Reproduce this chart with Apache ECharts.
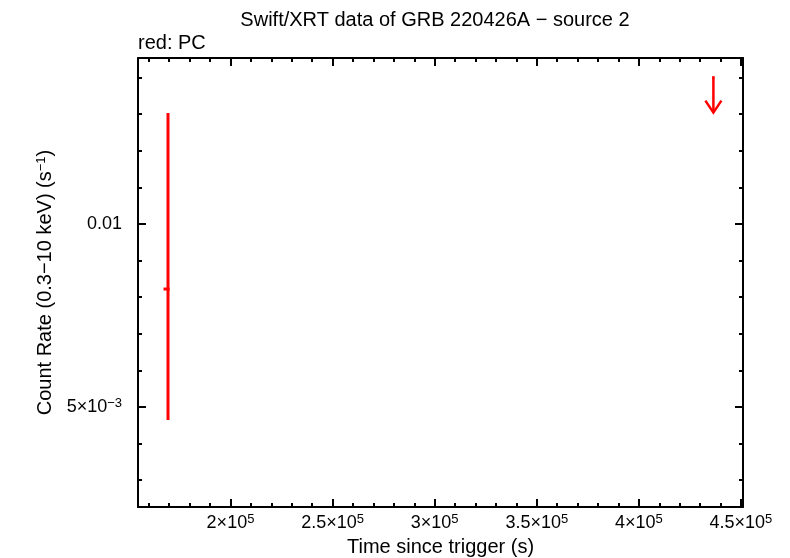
<!DOCTYPE html>
<html><head><meta charset="utf-8">
<script src="https://cdn.jsdelivr.net/npm/echarts@6/dist/echarts.min.js"></script>
<style>html,body{margin:0;padding:0;background:#fff}#c{width:790px;height:558px}</style>
</head><body><div id="c"></div>
<script>
// PC-mode detection (time since trigger, s; count rate, s^-1)
const pcX   = [169400];
const pcXlo = [167200];
const pcXhi = [170200];
const pcY   = [0.008224];
const pcYlo = [0.004645];
const pcYhi = [0.013033];
// PC-mode upper limit
const ulX   = [436500];
const ulXlo = [435900];
const ulXhi = [437100];
const ulY   = [0.0140];

const xMajor = [200000, 250000, 300000, 350000, 400000, 450000];
const xMinor = [160000,170000,180000,190000,210000,220000,230000,240000,260000,270000,280000,290000,310000,320000,330000,340000,360000,370000,380000,390000,410000,420000,430000,440000];
const yMajor = [0.005, 0.01];
const yMinor = [0.003,0.004,0.006,0.007,0.008,0.009,0.011,0.012,0.013,0.014];
const xLabels = {200000:'2×10{sup|5}',250000:'2.5×10{sup|5}',300000:'3×10{sup|5}',350000:'3.5×10{sup|5}',400000:'4×10{sup|5}',450000:'4.5×10{sup|5}'};
const yLabels = {0.005:'5×10{sup|−3}',0.01:'0.01'};

const XMIN = 154700, XMAX = 451000, YMIN = 0.002268, YMAX = 0.014536;
const FONT = 'Liberation Sans, Arial, sans-serif';
const rich = {sup:{fontSize:13,fontFamily:FONT,color:'#000',verticalAlign:'top',padding:[0,0,8,0]}};

function xa(pos, vals, len, labels, line){
  return {type:'value', position:pos, min:XMIN, max:XMAX, gridIndex:0,
    axisLine:{show:line, onZero:false, lineStyle:{color:'#000',width:2}},
    axisTick:{show:true, inside:true, length:len, customValues:vals, lineStyle:{color:'#000',width:2}},
    axisLabel:labels?{show:true, customValues:vals, margin:6, fontSize:18, fontFamily:FONT, color:'#000',
      formatter:v=>xLabels[v]||'', rich:rich}:{show:false},
    splitLine:{show:false}};
}
function ya(pos, vals, len, labels, line){
  return {type:'value', position:pos, min:YMIN, max:YMAX, gridIndex:0,
    axisLine:{show:line, onZero:false, lineStyle:{color:'#000',width:2}},
    axisTick:{show:true, inside:true, length:len, customValues:vals, lineStyle:{color:'#000',width:2}},
    axisLabel:labels?{show:true, customValues:vals, margin:16, fontSize:18, fontFamily:FONT, color:'#000',
      formatter:v=>yLabels[v]||'', rich:rich}:{show:false},
    splitLine:{show:false}};
}

const xAxes = [xa('bottom', xMajor, 8, true, true), xa('bottom', xMinor, 4, false, false),
               xa('top', xMajor, 8, false, true), xa('top', xMinor, 4, false, false)];
xAxes[0].name = 'Time since trigger (s)';
xAxes[0].nameLocation = 'middle';
xAxes[0].nameGap = 30;
xAxes[0].nameTextStyle = {fontSize:20, fontFamily:FONT, color:'#000'};
const yAxes = [ya('left', yMajor, 8, true, true), ya('left', yMinor, 4, false, false),
               ya('right', yMajor, 8, false, true), ya('right', yMinor, 4, false, false)];
yAxes[0].name = 'Count Rate (0.3−10 keV) (s{sup|−1})';
yAxes[0].nameLocation = 'middle';
yAxes[0].nameGap = 77;
yAxes[0].nameTextStyle = {fontSize:20, fontFamily:FONT, color:'#000', rich:rich};

const pcData = pcX.map((x,i)=>[x, pcY[i], pcXlo[i], pcXhi[i], pcYlo[i], pcYhi[i]]);
const ulData = ulX.map((x,i)=>[x, ulY[i], ulXlo[i], ulXhi[i]]);
const red = '#ff0000';

const option = {
  animation:false,
  backgroundColor:'#fff',
  title:[
    {text:'Swift/XRT data of GRB 220426A − source 2', left:435, top:10, padding:0, textAlign:'center',
     textStyle:{fontSize:20, fontWeight:'normal', fontFamily:FONT, color:'#000'}},
    {text:'red: PC', left:138, top:33, padding:0, textStyle:{fontSize:20, fontWeight:'normal', fontFamily:FONT, color:'#000'}}
  ],
  grid:{left:138, top:58, right:47, bottom:51, containLabel:false, outerBoundsMode:'none'},
  xAxis:xAxes,
  yAxis:yAxes,
  series:[
    {type:'custom', xAxisIndex:0, yAxisIndex:0, data:pcData, clip:false,
     renderItem:(params, api)=>{
       const c = api.coord([api.value(0), api.value(1)]);
       const l = api.coord([api.value(2), api.value(1)]);
       const r = api.coord([api.value(3), api.value(1)]);
       const lo = api.coord([api.value(0), api.value(4)]);
       const hi = api.coord([api.value(0), api.value(5)]);
       return {type:'group', children:[
         {type:'line', shape:{x1:lo[0], y1:lo[1], x2:hi[0], y2:hi[1]}, style:{stroke:red, lineWidth:3}},
         {type:'line', shape:{x1:l[0], y1:c[1], x2:r[0], y2:c[1]}, style:{stroke:red, lineWidth:3}}
       ]};
     }},
    {type:'custom', xAxisIndex:0, yAxisIndex:0, data:ulData, clip:false,
     renderItem:(params, api)=>{
       const c = api.coord([api.value(0), api.value(1)]);
       const l = api.coord([api.value(2), api.value(1)]);
       const r = api.coord([api.value(3), api.value(1)]);
       const tip = c[1] + 35;
       return {type:'group', children:[
         {type:'line', shape:{x1:l[0], y1:c[1], x2:r[0], y2:c[1]}, style:{stroke:red, lineWidth:3}},
         {type:'line', shape:{x1:c[0], y1:c[1], x2:c[0], y2:tip}, style:{stroke:red, lineWidth:2.5}},
         {type:'polyline', shape:{points:[[c[0]-8, tip-12],[c[0], tip],[c[0]+8, tip-12]]}, style:{stroke:red, lineWidth:2.5, fill:null}}
       ]};
     }}
  ]
};
echarts.init(document.getElementById('c'), null, {renderer:'canvas'}).setOption(option);
</script></body></html>
